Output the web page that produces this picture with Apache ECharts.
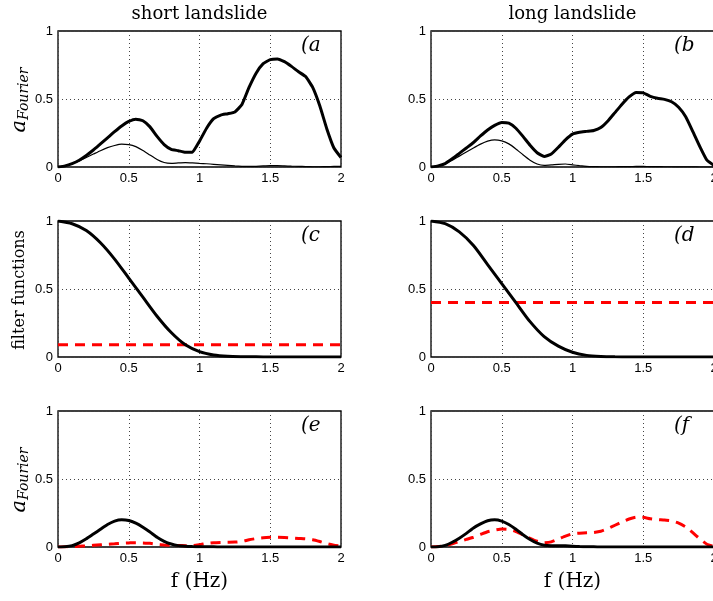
<!DOCTYPE html>
<html><head><meta charset="utf-8">
<script src="https://cdn.jsdelivr.net/npm/echarts@6/dist/echarts.min.js"></script>
<style>html,body{margin:0;padding:0;background:#fff}#c{width:713px;height:601px}</style>
</head><body><div id="c"></div>
<script>
// frequency grids (Hz)
const freqFine = [0,0.05,0.1,0.15,0.2,0.25,0.3,0.35,0.4,0.45,0.5,0.55,0.6,0.65,0.7,0.75,0.8,0.85,0.9,0.95,1.0,1.05,1.1,1.15,1.2,1.25,1.3,1.35,1.4,1.45,1.5,1.55,1.6,1.65,1.7,1.75,1.8,1.85,1.9,1.95,2.0];
const freqCoarse = [0,0.1,0.2,0.3,0.4,0.5,0.6,0.7,0.8,0.9,1.0,1.1,1.2,1.3,1.4,1.5,1.6,1.7,1.8,1.9,2.0];

// (a) short landslide spectra
const shortThick = [0,0.008,0.025,0.05,0.085,0.125,0.17,0.215,0.26,0.302,0.335,0.352,0.34,0.295,0.225,0.165,0.13,0.12,0.108,0.11,0.19,0.285,0.355,0.382,0.392,0.405,0.46,0.585,0.69,0.76,0.79,0.795,0.775,0.74,0.70,0.665,0.585,0.45,0.28,0.14,0.07];
const shortThin = [0,0.008,0.025,0.045,0.07,0.095,0.12,0.142,0.158,0.168,0.165,0.15,0.122,0.088,0.055,0.033,0.027,0.03,0.032,0.03,0.027,0.024,0.02,0.016,0.012,0.008,0.005,0.004,0.005,0.008,0.01,0.01,0.008,0.006,0.005,0.003,0.002,0.002,0.003,0.004,0.005];
// (b) long landslide spectra
const longThick = [0,0.008,0.025,0.06,0.1,0.14,0.18,0.228,0.272,0.306,0.328,0.322,0.285,0.225,0.16,0.105,0.078,0.095,0.145,0.2,0.242,0.256,0.262,0.268,0.29,0.338,0.4,0.462,0.515,0.548,0.545,0.52,0.505,0.497,0.48,0.44,0.37,0.262,0.15,0.05,0.012];
const longThin = [0,0.008,0.025,0.05,0.08,0.11,0.14,0.168,0.19,0.2,0.192,0.17,0.133,0.09,0.05,0.022,0.012,0.015,0.02,0.022,0.016,0.01,0.005,0.003,0.002,0.002,0.002,0.003,0.003,0.004,0.004,0.003,0.003,0.002,0.002,0.001,0.001,0.001,0,0,0];
// (c),(d) filter functions
const filterShort = [1,0.98,0.93,0.84,0.72,0.58,0.44,0.30,0.18,0.09,0.04,0.015,0.005,0.002,0.001,0,0,0,0,0,0];
const filterLong = [1,0.98,0.92,0.82,0.68,0.54,0.40,0.26,0.15,0.08,0.035,0.012,0.004,0.001,0,0,0,0,0,0,0];
const levelShort = 0.09;
const levelLong = 0.40;
// (e),(f) filtered spectra
const shortLow = [0,0.002,0.01,0.03,0.06,0.095,0.13,0.165,0.19,0.2,0.195,0.175,0.145,0.11,0.072,0.042,0.022,0.01,0.005,0.003,0.002,0.001,0.001,0,0,0,0,0,0,0,0,0,0,0,0,0,0,0,0,0,0];
const shortHigh = [0,0.001,0.002,0.005,0.008,0.012,0.016,0.02,0.024,0.028,0.03,0.032,0.03,0.027,0.02,0.015,0.012,0.011,0.01,0.01,0.017,0.026,0.032,0.034,0.035,0.036,0.041,0.053,0.062,0.068,0.071,0.072,0.07,0.067,0.063,0.06,0.053,0.04,0.025,0.013,0.006];
const longLow = [0,0.002,0.012,0.035,0.065,0.1,0.14,0.17,0.193,0.2,0.19,0.165,0.13,0.09,0.055,0.028,0.013,0.01,0.01,0.009,0.006,0.003,0.002,0.001,0,0,0,0,0,0,0,0,0,0,0,0,0,0,0,0,0];
const longHigh = [0,0.003,0.01,0.024,0.04,0.056,0.072,0.092,0.112,0.124,0.132,0.129,0.114,0.09,0.064,0.042,0.031,0.038,0.058,0.08,0.097,0.102,0.105,0.107,0.116,0.135,0.16,0.185,0.206,0.219,0.218,0.208,0.202,0.199,0.192,0.176,0.148,0.105,0.06,0.02,0.005];

const xTicks = [0,0.5,1,1.5,2];
const yTicks = [0,0.5,1];
const colTitles = ['short landslide','long landslide'];
const panelLabels = ['(a','(b','(c','(d','(e','(f'];

const lefts = [58, 431], tops = [31, 221, 411], W = 283, H = 136;
const pair = (xs, ys) => xs.map((x, i) => [x, ys[i]]);
const flat = (v) => [[0, v], [2, v]];

const grids = [], xAxes = [], yAxes = [], series = [];
let gi = 0;
for (let r = 0; r < 3; r++) for (let c = 0; c < 2; c++) {
  grids.push({left: lefts[c], width: W, top: tops[r], height: H, outerBoundsMode: 'none', containLabel: false,
    show: true, borderColor: '#000', borderWidth: 1.3, backgroundColor: '#fff'});
  xAxes.push({gridIndex: gi, type: 'value', min: xTicks[0], max: xTicks[xTicks.length-1], interval: 0.5,
    axisLine: {show: false}, axisTick: {show: false},
    axisLabel: {color: '#000', fontFamily: 'Liberation Sans', fontSize: 13, margin: 5, hideOverlap: false},
    splitLine: {show: true, lineStyle: {color: '#444', type: [1, 3], width: 1}}});
  yAxes.push({gridIndex: gi, type: 'value', min: yTicks[0], max: yTicks[yTicks.length-1], interval: 0.5,
    axisLine: {show: false}, axisTick: {show: false},
    axisLabel: {color: '#000', fontFamily: 'Liberation Sans', fontSize: 13, margin: 5},
    splitLine: {show: true, lineStyle: {color: '#444', type: [1, 3], width: 1}}});
  gi++;
}
function line(idx, data, color, width, dashed, sm) {
  series.push({type: 'line', xAxisIndex: idx, yAxisIndex: idx, data: data, smooth: sm, symbol: 'none',
    lineStyle: {color: color, width: width, type: dashed ? [10, 7] : 'solid'}, z: dashed ? 3 : 4, animation: false});
}
line(0, pair(freqFine, shortThin), '#000', 1.2, false, 0.15);
line(0, pair(freqFine, shortThick), '#000', 3, false, 0.15);
line(1, pair(freqFine, longThin), '#000', 1.2, false, 0.15);
line(1, pair(freqFine, longThick), '#000', 3, false, 0.15);
line(2, pair(freqCoarse, filterShort), '#000', 3, false, 0.25);
line(2, flat(levelShort), '#f00', 3, true, false);
line(3, pair(freqCoarse, filterLong), '#000', 3, false, 0.25);
line(3, flat(levelLong), '#f00', 3, true, false);
line(4, pair(freqFine, shortLow), '#000', 3, false, 0.15);
line(4, pair(freqFine, shortHigh), '#f00', 3, true, 0.15);
line(5, pair(freqFine, longLow), '#000', 3, false, 0.15);
line(5, pair(freqFine, longHigh), '#f00', 3, true, 0.15);

const serif = 'DejaVu Serif';
const graphic = [];
colTitles.forEach((t, c) => graphic.push({type: 'text', x: lefts[c] + W/2, y: 14, style: {text: t, font: '18px "' + serif + '"', fill: '#000', textAlign: 'center', textVerticalAlign: 'middle'}}));
let k = 0;
for (let r = 0; r < 3; r++) for (let c = 0; c < 2; c++) {
  graphic.push({type: 'text', x: lefts[c] + 243, y: tops[r] + 15, style: {text: panelLabels[k++], font: 'italic 20px "' + serif + '"', fill: '#000', textAlign: 'left', textVerticalAlign: 'middle'}, z: 10});
}
const aF = {type: 'text', rotation: Math.PI/2, style: {text: '{a|a}{s|Fourier}', textAlign: 'center', textVerticalAlign: 'middle', fill: '#000',
  rich: {a: {font: 'italic 21px "' + serif + '"', fill: '#000'}, s: {font: 'italic 14px "' + serif + '"', fill: '#000', padding: [8, 0, 0, 0]}}}};
graphic.push(Object.assign({}, aF, {x: 20, y: 100}));
graphic.push(Object.assign({}, aF, {x: 20, y: 480}));
graphic.push({type: 'text', x: 20, y: 290, rotation: Math.PI/2, style: {text: 'filter functions', font: '16px "' + serif + '"', fill: '#000', textAlign: 'center', textVerticalAlign: 'middle'}});
[0, 1].forEach(c => graphic.push({type: 'text', x: lefts[c] + W/2, y: 582, style: {text: 'f (Hz)', font: '20px "' + serif + '"', fill: '#000', textAlign: 'center', textVerticalAlign: 'middle'}}));

const chart = echarts.init(document.getElementById('c'), null, {renderer: 'canvas'});
chart.setOption({animation: false, backgroundColor: '#fff', grid: grids, xAxis: xAxes, yAxis: yAxes, series: series, graphic: graphic});
</script></body></html>
